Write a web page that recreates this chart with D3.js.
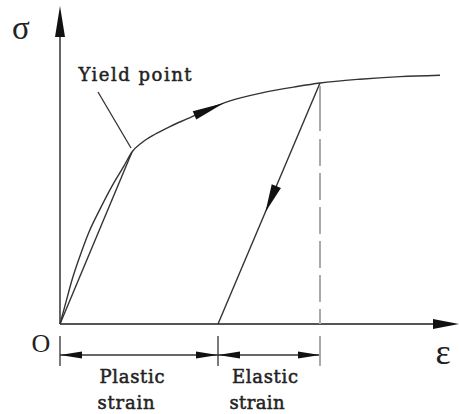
<!DOCTYPE html>
<html>
<head>
<meta charset="utf-8">
<script src="https://cdn.jsdelivr.net/npm/d3@7"></script>
<style>
  html, body { margin: 0; padding: 0; background: #fff; }
  svg { display: block; }
  text { font-family: "Liberation Serif", "DejaVu Serif", serif; fill: #222; }
  text.lbl { font-family: "DejaVu Serif", serif; stroke: #222; stroke-width: 0.5; }
</style>
</head>
<body>
<svg id="chart" width="459" height="414"></svg>
<script>
// ---- data (strain units, stress units) ----
const loadStrain = [0, 1.5, 3, 5, 7.25, 10, 13, 16, 18, 20.5, 23.75, 27.5, 31.75, 36.75, 42.5, 50.75, 59.25, 65, 75, 85, 95];
const loadStress = [0, 6.9, 13.75, 21.25, 28.75, 35.9, 43.1, 49.4, 53.75, 56.7, 59.3, 61.7, 64.1, 66.9, 69.7, 72.3, 74.2, 75.3, 76.5, 77.3, 77.75];
const elasticStrain = [0, 18];          // straight line origin -> yield point
const elasticStress = [0, 53.75];
const unloadStrain = [65, 39.5];        // unloading from peak to residual strain
const unloadStress = [75.3, 0];
const dimStrain = [0, 39.5, 65];        // dimension marks: origin, plastic, total
const dimLabels = [["Plastic", "strain"], ["Elastic", "strain"]];
const axisLabels = { y: "σ", x: "ε", origin: "O" };
const yieldLabel = "Yield point";

// ---- scales ----
const svg = d3.select("#chart");
const x = d3.scaleLinear().domain([0, 100]).range([60, 460]);
const y = d3.scaleLinear().domain([0, 100]).range([324, 4]);

const ink = "#333";
const axisInk = "#555";

// ---- axes ----
svg.append("line").attr("x1", x(0)).attr("y1", y(0)).attr("x2", x(0)).attr("y2", 30)
  .attr("stroke", axisInk).attr("stroke-width", 1.8);
svg.append("line").attr("x1", x(0)).attr("y1", y(0)).attr("x2", 440).attr("y2", y(0))
  .attr("stroke", axisInk).attr("stroke-width", 1.8);

function arrowHead(tip, base, halfW, color) {
  const dx = tip[0] - base[0], dy = tip[1] - base[1];
  const L = Math.hypot(dx, dy);
  const nx = -dy / L * halfW, ny = dx / L * halfW;
  svg.append("path")
    .attr("d", `M${tip[0]},${tip[1]}L${base[0] + nx},${base[1] + ny}L${base[0] - nx},${base[1] - ny}Z`)
    .attr("fill", color || "#111");
}
// axis arrowheads
arrowHead([x(0), 6], [x(0), 37], 5);
arrowHead([459, y(0)], [433, y(0)], 5);

// ---- curves ----
const line = d3.line().x(d => x(d[0])).y(d => y(d[1])).curve(d3.curveMonotoneX);
const loadPts = loadStrain.map((s, i) => [s, loadStress[i]]);
const loadPath = svg.append("path").datum(loadPts).attr("d", line)
  .attr("fill", "none").attr("stroke", ink).attr("stroke-width", 1.4);

const straight = d3.line().x(d => x(d[0])).y(d => y(d[1]));
svg.append("path").datum(elasticStrain.map((s, i) => [s, elasticStress[i]])).attr("d", straight)
  .attr("fill", "none").attr("stroke", ink).attr("stroke-width", 1.4);

const unloadPts = unloadStrain.map((s, i) => [s, unloadStress[i]]);
svg.append("path").datum(unloadPts).attr("d", straight)
  .attr("fill", "none").attr("stroke", ink).attr("stroke-width", 1.4);

// dashed vertical from peak
svg.append("line").attr("x1", x(dimStrain[2])).attr("x2", x(dimStrain[2]))
  .attr("y1", y(unloadStress[0]) + 3).attr("y2", y(0))
  .attr("stroke", "#aaa").attr("stroke-width", 2)
  .attr("stroke-dasharray", "45,8,27,7,27,7,27,7,27,7,27,7,27,7");

// arrow on loading curve
(function () {
  const node = loadPath.node();
  const total = node.getTotalLength();
  function lenAtX(px) {
    let lo = 0, hi = total;
    for (let i = 0; i < 40; i++) {
      const mid = (lo + hi) / 2;
      if (node.getPointAtLength(mid).x < px) lo = mid; else hi = mid;
    }
    return lo;
  }
  const lt = lenAtX(224);
  const tip = node.getPointAtLength(lt);
  const base = node.getPointAtLength(lt - 32);
  arrowHead([tip.x, tip.y], [base.x, base.y], 4.5);
})();

// arrow on unloading line
(function () {
  const p0 = [x(unloadPts[0][0]), y(unloadPts[0][1])];
  const p1 = [x(unloadPts[1][0]), y(unloadPts[1][1])];
  const L = Math.hypot(p1[0] - p0[0], p1[1] - p0[1]);
  const t = 0.535, tb = t - 28 / L;
  const tip = [p0[0] + (p1[0] - p0[0]) * t, p0[1] + (p1[1] - p0[1]) * t];
  const base = [p0[0] + (p1[0] - p0[0]) * tb, p0[1] + (p1[1] - p0[1]) * tb];
  arrowHead(tip, base, 5);
})();

// ---- yield point label & leader ----
svg.append("line").attr("x1", 98).attr("y1", 92)
  .attr("x2", x(elasticStrain[1]) - 1).attr("y2", y(elasticStress[1]) - 4)
  .attr("stroke", ink).attr("stroke-width", 1.3);
svg.append("text").attr("class", "lbl").attr("x", 135).attr("y", 81).attr("text-anchor", "middle")
  .attr("font-size", 18).attr("textLength", 113).text(yieldLabel);

// ---- axis labels ----
svg.append("text").attr("x", 21).attr("y", 39).attr("text-anchor", "middle")
  .attr("font-size", 33).text(axisLabels.y);
svg.append("text").attr("x", 443).attr("y", 364).attr("text-anchor", "middle")
  .attr("font-size", 36).text(axisLabels.x);
svg.append("text").attr("x", 41).attr("y", 352).attr("text-anchor", "middle")
  .attr("font-size", 26).text(axisLabels.origin);

// ---- dimension line ----
const dimY = 355;
svg.append("line").attr("x1", x(dimStrain[0])).attr("x2", x(dimStrain[2]))
  .attr("y1", dimY).attr("y2", dimY).attr("stroke", ink).attr("stroke-width", 1.3);
dimStrain.forEach((s, i) => {
  svg.append("line").attr("x1", x(s)).attr("x2", x(s)).attr("y1", 336).attr("y2", 366)
    .attr("stroke", i === 2 ? "#aaa" : ink).attr("stroke-width", i === 2 ? 2 : 1.3);
});
for (let i = 0; i < dimStrain.length - 1; i++) {
  const a = x(dimStrain[i]), b = x(dimStrain[i + 1]);
  arrowHead([a, dimY], [a + 22, dimY], 3.5);
  arrowHead([b, dimY], [b - 22, dimY], 3.5);
}
const labelCenters = [[132, 126], [265, 257]];
const labelWidths = [[65, 57], [66, 55]];
dimLabels.forEach((lbl, i) => {
  svg.append("text").attr("class", "lbl").attr("x", labelCenters[i][0]).attr("y", 383).attr("text-anchor", "middle")
    .attr("font-size", 18).attr("textLength", labelWidths[i][0]).text(lbl[0]);
  svg.append("text").attr("class", "lbl").attr("x", labelCenters[i][1]).attr("y", 409).attr("text-anchor", "middle")
    .attr("font-size", 18).attr("textLength", labelWidths[i][1]).text(lbl[1]);
});
</script>
</body>
</html>
